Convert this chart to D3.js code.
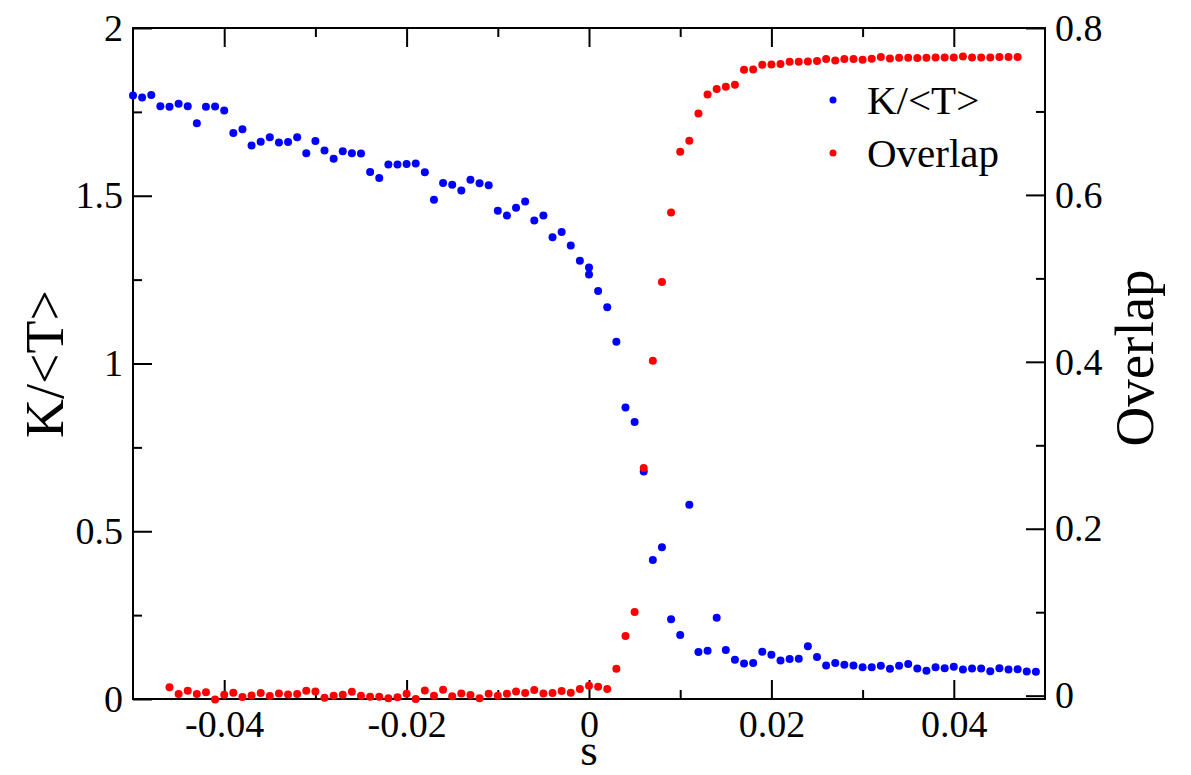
<!DOCTYPE html>
<html>
<head>
<meta charset="utf-8">
<script src="https://cdn.jsdelivr.net/npm/d3@7"></script>
<style>
  html, body { margin: 0; padding: 0; background: #fff; }
  svg { display: block; }
  text { font-family: "Liberation Serif", "Times New Roman", serif; fill: #000; }
</style>
</head>
<body>
<svg id="chart" width="1191" height="775"></svg>
<script>
// s values for the K/<T> series (s = 0 was sampled twice)
const sK = [
  -0.050, -0.049, -0.048, -0.047, -0.046, -0.045, -0.044, -0.043, -0.042, -0.041,
  -0.040, -0.039, -0.038, -0.037, -0.036, -0.035, -0.034, -0.033, -0.032, -0.031,
  -0.030, -0.029, -0.028, -0.027, -0.026, -0.025, -0.024, -0.023, -0.022, -0.021,
  -0.020, -0.019, -0.018, -0.017, -0.016, -0.015, -0.014, -0.013, -0.012, -0.011,
  -0.010, -0.009, -0.008, -0.007, -0.006, -0.005, -0.004, -0.003, -0.002, -0.001,
   0.000,  0.000,
   0.001,  0.002,  0.003,  0.004,  0.005,  0.006,  0.007,  0.008,  0.009,  0.010,
   0.011,  0.012,  0.013,  0.014,  0.015,  0.016,  0.017,  0.018,  0.019,  0.020,
   0.021,  0.022,  0.023,  0.024,  0.025,  0.026,  0.027,  0.028,  0.029,  0.030,
   0.031,  0.032,  0.033,  0.034,  0.035,  0.036,  0.037,  0.038,  0.039,  0.040,
   0.041,  0.042,  0.043,  0.044,  0.045,  0.046,  0.047,  0.048,  0.049
];
const kValues = [
  1.799, 1.793, 1.800, 1.767, 1.765, 1.774, 1.767, 1.716, 1.765, 1.766,
  1.754, 1.687, 1.698, 1.650, 1.661, 1.674, 1.659, 1.660, 1.674, 1.627,
  1.663, 1.635, 1.610, 1.633, 1.627, 1.626, 1.571, 1.553, 1.593, 1.593,
  1.595, 1.596, 1.570, 1.488, 1.538, 1.533, 1.516, 1.548, 1.537, 1.531,
  1.455, 1.441, 1.464, 1.483, 1.426, 1.441, 1.376, 1.392, 1.352, 1.306,
  1.286, 1.265,
  1.216, 1.168, 1.065, 0.869, 0.826, 0.678, 0.414, 0.452, 0.238, 0.191,
  0.579, 0.140, 0.144, 0.242, 0.146, 0.117, 0.106, 0.107, 0.141, 0.132,
  0.115, 0.119, 0.120, 0.157, 0.125, 0.100, 0.107, 0.102, 0.100, 0.095,
  0.095, 0.099, 0.090, 0.099, 0.104, 0.091, 0.084, 0.095, 0.092, 0.096,
  0.088, 0.091, 0.091, 0.083, 0.092, 0.088, 0.089, 0.082, 0.081
];

// s values for the Overlap series
const sO = [
  -0.046, -0.045, -0.044, -0.043, -0.042, -0.041, -0.040, -0.039, -0.038, -0.037,
  -0.036, -0.035, -0.034, -0.033, -0.032, -0.031, -0.030, -0.029, -0.028, -0.027,
  -0.026, -0.025, -0.024, -0.023, -0.022, -0.021, -0.020, -0.019, -0.018, -0.017,
  -0.016, -0.015, -0.014, -0.013, -0.012, -0.011, -0.010, -0.009, -0.008, -0.007,
  -0.006, -0.005, -0.004, -0.003, -0.002, -0.001,  0.000,  0.001,  0.002,  0.003,
   0.004,  0.005,  0.006,  0.007,  0.008,  0.009,  0.010,  0.011,  0.012,  0.013,
   0.014,  0.015,  0.016,  0.017,  0.018,  0.019,  0.020,  0.021,  0.022,  0.023,
   0.024,  0.025,  0.026,  0.027,  0.028,  0.029,  0.030,  0.031,  0.032,  0.033,
   0.034,  0.035,  0.036,  0.037,  0.038,  0.039,  0.040,  0.041,  0.042,  0.043,
   0.044,  0.045,  0.046,  0.047
];
const overlapValues = [
  0.0100, 0.0020, 0.0060, 0.0020, 0.0040, -0.0045, 0.0010, 0.0035, -0.0016, 0.0003,
  0.0032, -0.0004, 0.0027, 0.0015, 0.0020, 0.0060, 0.0050, -0.0025, 0.0000, 0.0012,
  0.0048, 0.0000, -0.0012, -0.0012, -0.0032, -0.0020, 0.0023, -0.0040, 0.0063, 0.0000,
  0.0071, -0.0008, 0.0027, 0.0008, -0.0032, 0.0023, 0.0000, 0.0023, 0.0051, 0.0032,
  0.0068, 0.0027, 0.0032, 0.0056, 0.0035, 0.0079, 0.0119, 0.0107, 0.0079, 0.0323,
  0.0715, 0.1002, 0.2728, 0.4013, 0.4956, 0.5790, 0.6518, 0.6650, 0.6976, 0.7204,
  0.7269, 0.7296, 0.7320, 0.7500, 0.7504, 0.7560, 0.7564, 0.7568, 0.7596, 0.7596,
  0.7600, 0.7604, 0.7628, 0.7612, 0.7628, 0.7628, 0.7620, 0.7632, 0.7652, 0.7636,
  0.7644, 0.7644, 0.7640, 0.7644, 0.7647, 0.7647, 0.7647, 0.7659, 0.7647, 0.7647,
  0.7647, 0.7652, 0.7652, 0.7652
];

// tick positions
const xMajor = [-0.04, -0.02, 0, 0.02, 0.04];
const xMinor = [-0.03, -0.01, 0.01, 0.03];
const kMajor = [0, 0.5, 1, 1.5, 2];
const kMinor = [0.25, 0.75, 1.25, 1.75];
const oMajor = [0, 0.2, 0.4, 0.6, 0.8];
const oMinor = [0.1, 0.3, 0.5, 0.7];

const seriesNames = ["K/<T>", "Overlap"];
const seriesColors = ["#0000ff", "#ff0000"];

const svg = d3.select("#chart");
const plot = { left: 133, right: 1045, top: 28, bottom: 699 };

const x = d3.scaleLinear().domain([-0.05, 0.05]).range([plot.left, plot.right]);
const yK = d3.scaleLinear().domain([0, 2]).range([plot.bottom, plot.top]);
const yO = d3.scaleLinear().domain([-0.004, 0.8]).range([plot.bottom, plot.top]);

const fmt = d => (d === 0 ? "0" : String(d));
const MAJ = 19, MIN = 9, TICK_FONT = 38;

function styleAxis(g) {
  g.select(".domain").remove();
  g.selectAll(".tick line").attr("stroke", "#000").attr("stroke-width", 2);
  g.selectAll(".tick text").style("font-size", TICK_FONT + "px")
    .style("font-family", '"Liberation Serif", "Times New Roman", serif');
}

// bottom axis
svg.append("g").attr("transform", `translate(0,${plot.bottom})`)
  .call(d3.axisBottom(x).tickValues(xMajor).tickSize(-MAJ).tickPadding(11).tickFormat(fmt))
  .call(styleAxis);
svg.append("g").attr("transform", `translate(0,${plot.bottom})`)
  .call(d3.axisBottom(x).tickValues(xMinor).tickSize(-MIN).tickFormat(""))
  .call(styleAxis);
// top axis (ticks only)
svg.append("g").attr("transform", `translate(0,${plot.top})`)
  .call(d3.axisTop(x).tickValues(xMajor).tickSize(-MAJ).tickFormat(""))
  .call(styleAxis);
svg.append("g").attr("transform", `translate(0,${plot.top})`)
  .call(d3.axisTop(x).tickValues(xMinor).tickSize(-MIN).tickFormat(""))
  .call(styleAxis);
// left axis: K/<T>
svg.append("g").attr("transform", `translate(${plot.left},0)`)
  .call(d3.axisLeft(yK).tickValues(kMajor).tickSize(-MAJ).tickPadding(10).tickFormat(fmt))
  .call(styleAxis);
svg.append("g").attr("transform", `translate(${plot.left},0)`)
  .call(d3.axisLeft(yK).tickValues(kMinor).tickSize(-MIN).tickFormat(""))
  .call(styleAxis);
// right axis: Overlap
svg.append("g").attr("transform", `translate(${plot.right},0)`)
  .call(d3.axisRight(yO).tickValues(oMajor).tickSize(-MAJ).tickPadding(10).tickFormat(fmt))
  .call(styleAxis);
svg.append("g").attr("transform", `translate(${plot.right},0)`)
  .call(d3.axisRight(yO).tickValues(oMinor).tickSize(-MIN).tickFormat(""))
  .call(styleAxis);

// plot frame
svg.append("rect")
  .attr("x", plot.left).attr("y", plot.top)
  .attr("width", plot.right - plot.left).attr("height", plot.bottom - plot.top)
  .attr("fill", "none").attr("stroke", "#000").attr("stroke-width", 2);

// K/<T> points
svg.append("g").selectAll("circle")
  .data(d3.zip(sK, kValues))
  .join("circle")
  .attr("cx", d => x(d[0])).attr("cy", d => yK(d[1]))
  .attr("r", 4).attr("fill", seriesColors[0]);

// Overlap points
svg.append("g").selectAll("circle")
  .data(d3.zip(sO, overlapValues))
  .join("circle")
  .attr("cx", d => x(d[0])).attr("cy", d => yO(d[1]))
  .attr("r", 4).attr("fill", seriesColors[1]);

// axis titles
svg.append("text")
  .attr("transform", "translate(63,364) rotate(-90)")
  .attr("text-anchor", "middle")
  .style("font-size", "54px")
  .text("K/<T>");
svg.append("text")
  .attr("transform", "translate(1153,358) rotate(-90)")
  .attr("text-anchor", "middle")
  .style("font-size", "55px")
  .text("Overlap");
svg.append("text")
  .attr("x", x(0)).attr("y", 765)
  .attr("text-anchor", "middle")
  .style("font-size", "45px")
  .text("s");

// legend
const legend = svg.append("g");
seriesNames.forEach((name, i) => {
  const cy = 100 + i * 53;
  legend.append("circle").attr("cx", 833).attr("cy", cy).attr("r", 3.5).attr("fill", seriesColors[i]);
  legend.append("text").attr("x", 867).attr("y", cy + 14)
    .style("font-size", "41px").text(name);
});
</script>
</body>
</html>
